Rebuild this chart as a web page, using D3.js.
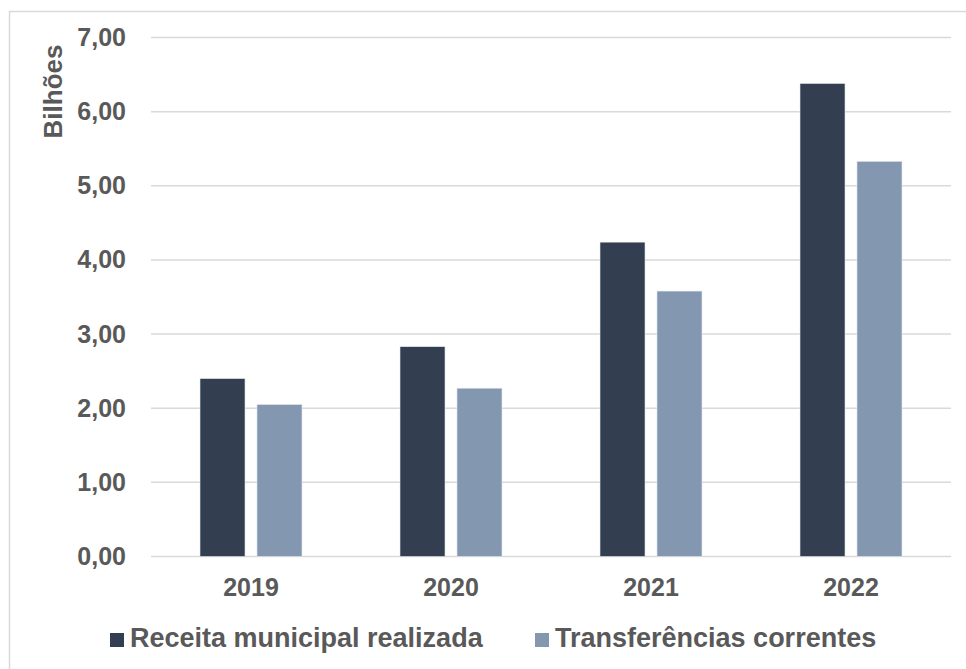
<!DOCTYPE html>
<html>
<head>
<meta charset="utf-8">
<script src="https://cdn.jsdelivr.net/npm/d3@7"></script>
<style>
  body { margin: 0; background: #fff; }
  text { font-family: "Liberation Sans", Arial, sans-serif; font-weight: bold; fill: #595959; }
</style>
</head>
<body>
<script>
var years = ["2019", "2020", "2021", "2022"];
var seriesNames = ["Receita municipal realizada", "Transferências correntes"];
var receita = [2.40, 2.83, 4.24, 6.38];
var transferencias = [2.05, 2.27, 3.58, 5.33];
var yTicks = [0, 1, 2, 3, 4, 5, 6, 7];
var colors = ["#333f50", "#8497b0"];

var width = 966, height = 669;
var plot = { left: 151, right: 951, top: 37.5, bottom: 556.5 };

var svg = d3.select("body").append("svg")
  .attr("width", width)
  .attr("height", height);

// outer frame
svg.append("rect")
  .attr("x", 9.5).attr("y", 11.5)
  .attr("width", 980).attr("height", 700)
  .attr("fill", "none")
  .attr("stroke", "#d9d9d9")
  .attr("stroke-width", 1.5);

var y = d3.scaleLinear().domain([0, 7]).range([plot.bottom, plot.top]);

var x0 = d3.scaleBand()
  .domain(years)
  .range([plot.left, plot.right])
  .paddingInner(0.49)
  .paddingOuter(0.245);

var x1 = d3.scaleBand()
  .domain(seriesNames)
  .range([0, x0.bandwidth()])
  .paddingInner(0.21);

var color = d3.scaleOrdinal().domain(seriesNames).range(colors);

// gridlines
svg.append("g")
  .selectAll("line")
  .data(yTicks)
  .enter().append("line")
  .attr("x1", plot.left).attr("x2", plot.right)
  .attr("y1", function(d) { return y(d); })
  .attr("y2", function(d) { return y(d); })
  .attr("stroke", "#d9d9d9")
  .attr("stroke-width", 1.5);

// y axis labels
var yAxis = d3.axisLeft(y)
  .tickValues(yTicks)
  .tickSize(0)
  .tickPadding(25)
  .tickFormat(function(d) { return d3.format(".2f")(d).replace(".", ","); });

var yG = svg.append("g")
  .attr("transform", "translate(" + plot.left + ",0)")
  .call(yAxis);
yG.select(".domain").remove();
yG.selectAll("text")
  .attr("fill", "#595959")
  .style("font-size", "25px")
  .style("font-family", "'Liberation Sans', Arial, sans-serif")
  .style("font-weight", "bold");

// bars
var rows = years.map(function(yr, i) {
  return { year: yr, values: [
    { key: seriesNames[0], value: receita[i] },
    { key: seriesNames[1], value: transferencias[i] }
  ]};
});

var groups = svg.append("g")
  .selectAll("g")
  .data(rows)
  .enter().append("g")
  .attr("transform", function(d) { return "translate(" + x0(d.year) + ",0)"; });

groups.selectAll("rect")
  .data(function(d) { return d.values; })
  .enter().append("rect")
  .attr("x", function(d) { return x1(d.key); })
  .attr("y", function(d) { return y(d.value); })
  .attr("width", x1.bandwidth())
  .attr("height", function(d) { return y(0) - y(d.value); })
  .attr("fill", function(d) { return color(d.key); })
  .attr("stroke", "#e6e9ee")
  .attr("stroke-width", 0.6);

// x axis labels
var xAxis = d3.axisBottom(x0).tickSize(0).tickPadding(22);
var xG = svg.append("g")
  .attr("transform", "translate(0," + plot.bottom + ")")
  .call(xAxis);
xG.select(".domain").remove();
xG.selectAll("text")
  .attr("fill", "#595959")
  .style("font-size", "25px")
  .style("font-family", "'Liberation Sans', Arial, sans-serif")
  .style("font-weight", "bold");

// y title
svg.append("text")
  .attr("transform", "translate(62,91.5) rotate(-90)")
  .attr("text-anchor", "middle")
  .style("font-size", "26px")
  .text("Bilhões");

// legend
var legendX = [110, 535];
var legend = svg.append("g")
  .selectAll("g")
  .data(seriesNames)
  .enter().append("g")
  .attr("transform", function(d, i) { return "translate(" + legendX[i] + ",633)"; });

legend.append("rect")
  .attr("width", 14).attr("height", 14)
  .attr("fill", function(d) { return color(d); });

legend.append("text")
  .attr("x", 20).attr("y", 14)
  .style("font-size", "27px")
  .text(function(d) { return d; });
</script>
</body>
</html>
